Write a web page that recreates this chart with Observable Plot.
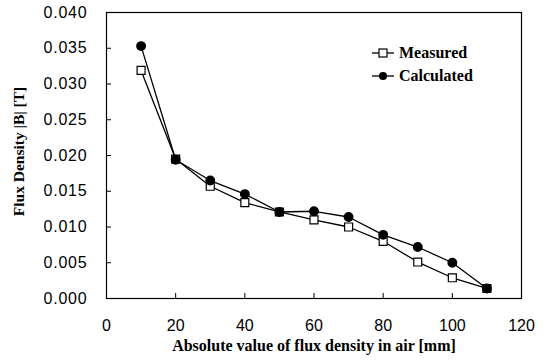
<!DOCTYPE html>
<html>
<head>
<meta charset="utf-8">
<script src="https://cdn.jsdelivr.net/npm/d3@7"></script>
<script src="https://cdn.jsdelivr.net/npm/@observablehq/plot@0.6"></script>
<style>
  html, body { margin: 0; padding: 0; background: #fff; }
  #wrap { position: relative; width: 548px; height: 364px; }
  #legend { position: absolute; left: 372px; top: 41px; font-family: "Liberation Serif", "Times New Roman", serif; font-weight: bold; font-size: 16px; line-height: 23px; color: #000; }
  #legend div { display: flex; align-items: center; }
  #legend svg { margin-right: 5px; }
  .ylab text { letter-spacing: 0.8px; }
</style>
</head>
<body>
<div id="wrap"></div>
<script>
const distance = [10, 20, 30, 40, 50, 60, 70, 80, 90, 100, 110];
const measured = [0.0319, 0.0195, 0.0157, 0.0134, 0.0121, 0.0110, 0.0100, 0.0080, 0.0051, 0.0029, 0.0014];
const calculated = [0.0353, 0.0194, 0.0165, 0.0146, 0.0121, 0.0122, 0.0114, 0.0089, 0.0072, 0.0050, 0.0014];
const xTicks = [0, 20, 40, 60, 80, 100, 120];
const yTicks = [0, 0.005, 0.01, 0.015, 0.02, 0.025, 0.03, 0.035, 0.04];
const seriesNames = ["Measured", "Calculated"];
const xTitle = "Absolute value of flux density in air [mm]";
const yTitle = "Flux Density |B| [T]";

const meas = distance.map((d, i) => ({x: d, y: measured[i]}));
const calc = distance.map((d, i) => ({x: d, y: calculated[i]}));

const serif = "'Liberation Serif', 'Times New Roman', serif";

const chart = Plot.plot({
  width: 548,
  height: 364,
  marginLeft: 106,
  marginRight: 27,
  marginTop: 12,
  marginBottom: 66,
  style: {fontFamily: "'Liberation Sans', Arial, sans-serif", fontSize: "16px", color: "#000", background: "#fff"},
  x: {domain: [0, 120]},
  y: {domain: [0, 0.04]},
  marks: [
    Plot.frame({stroke: "#000", strokeWidth: 1.2}),
    Plot.axisX(xTicks, {tickSize: -5, tickFormat: () => "", label: null, strokeWidth: 1}),
    Plot.axisX(xTicks, {tickSize: 0, tickPadding: 21, tickFormat: d => String(d), label: null, fontSize: 16}),
    Plot.axisY(yTicks, {tickSize: -5, tickFormat: () => "", label: null, strokeWidth: 1}),
    Plot.axisY(yTicks, {tickSize: 0, tickPadding: 19, tickFormat: d => d.toFixed(3), label: null, fontSize: 16, className: "ylab"}),
    Plot.line(meas, {x: "x", y: "y", stroke: "#000", strokeWidth: 1.3}),
    Plot.line(calc, {x: "x", y: "y", stroke: "#000", strokeWidth: 1.3}),
    Plot.dot(meas, {x: "x", y: "y", symbol: "square", r: 4.5, fill: "#fff", stroke: "#000", strokeWidth: 1.2}),
    Plot.dot(calc, {x: "x", y: "y", symbol: "circle", r: 4.2, fill: "#000", stroke: "#000"}),
    Plot.text([xTitle], {frameAnchor: "bottom", dy: 52, textAnchor: "middle", fontFamily: serif, fontWeight: "bold", fontSize: 16, fill: "#000"}),
    Plot.text([yTitle], {frameAnchor: "left", dx: -87, dy: -4, textAnchor: "middle", rotate: -90, fontFamily: serif, fontWeight: "bold", fontSize: 15.5, fill: "#000"})
  ]
});

const wrap = document.getElementById("wrap");
wrap.appendChild(chart);

const legend = document.createElement("div");
legend.id = "legend";
seriesNames.forEach((name, i) => {
  const row = document.createElement("div");
  const sym = i === 0
    ? '<svg width="22" height="12"><line x1="0" y1="6" x2="22" y2="6" stroke="#000" stroke-width="1.3"/><rect x="7" y="2" width="8" height="8" fill="#fff" stroke="#000" stroke-width="1.2"/></svg>'
    : '<svg width="22" height="12"><line x1="0" y1="6" x2="22" y2="6" stroke="#000" stroke-width="1.3"/><circle cx="11" cy="6" r="4" fill="#000"/></svg>';
  row.innerHTML = sym + '<span>' + name + '</span>';
  legend.appendChild(row);
});
wrap.appendChild(legend);
</script>
</body>
</html>
